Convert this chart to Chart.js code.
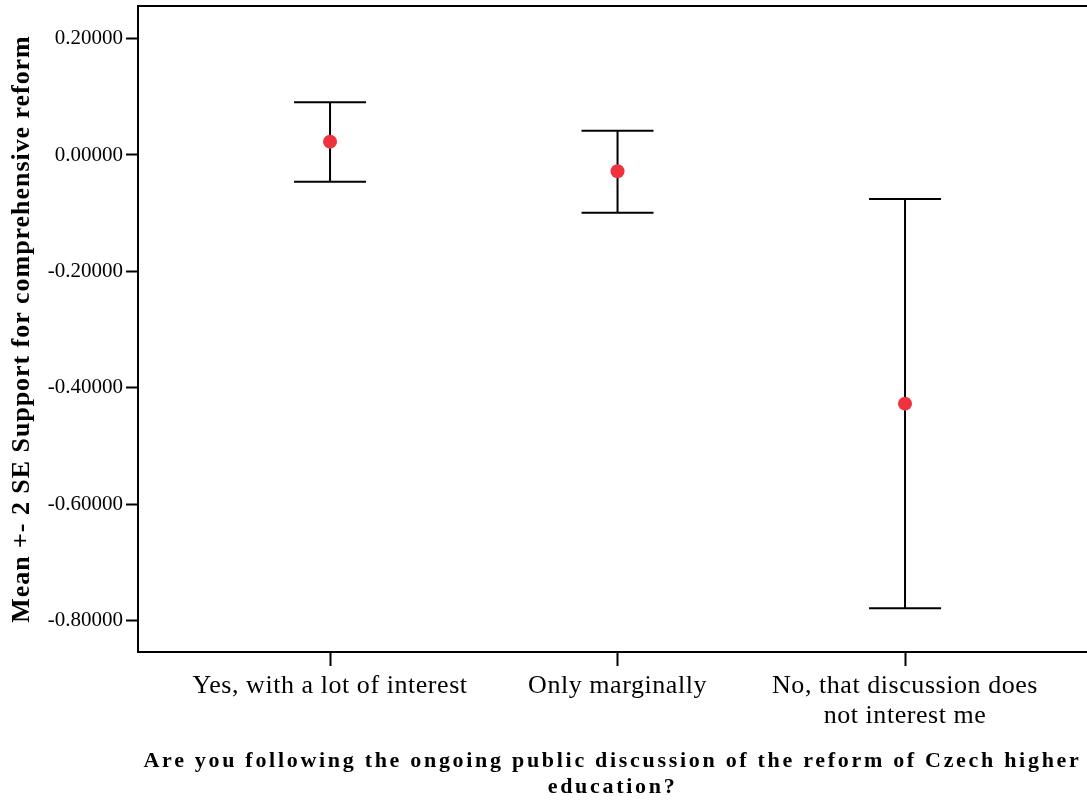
<!DOCTYPE html>
<html>
<head>
<meta charset="utf-8">
<script src="https://cdn.jsdelivr.net/npm/chart.js@4/dist/chart.umd.min.js"></script>
<style>
  html, body { margin: 0; padding: 0; background: #fff; }
  #wrap { width: 1087px; height: 803px; position: relative; }
</style>
</head>
<body>
<div id="wrap"><canvas id="chart"></canvas></div>
<script>
// Response categories (multi-line labels)
const categories = [
  ["Yes, with a lot of interest"],
  ["Only marginally"],
  ["No, that discussion does", "not interest me"]
];
// Mean and mean ± 2 SE of the support score
const means = [0.0229, -0.0280, -0.4273];
const upper = [0.0906, 0.0418, -0.0756];
const lower = [-0.0459, -0.0991, -0.7789];
// Y-axis tick values
const yTicks = [0.2, 0.0, -0.2, -0.4, -0.6, -0.8];

const yTitle = "Mean +- 2 SE Support for comprehensive reform";
const xTitle = ["Are you following the ongoing public discussion of the reform of Czech higher", "education?"];

const SERIF = "'Liberation Serif', 'Times New Roman', serif";
const RED = "rgb(239, 51, 62)";

// Wrap a scale drawing method so its text is drawn with extra letter spacing
function withSpacing(scale, method, px) {
  const flag = "_spaced_" + method;
  if (scale[flag]) return;
  const orig = scale[method];
  scale[method] = function (...args) {
    const ctx = this.ctx;
    ctx.save();
    ctx.letterSpacing = px + "px";
    orig.apply(this, args);
    ctx.restore();
  };
  scale[flag] = true;
}

function noPadding(s) {
  s.paddingTop = 0; s.paddingBottom = 0; s.paddingLeft = 0; s.paddingRight = 0;
}

const datasets = [];

// Mean markers
datasets.push({
  type: "scatter",
  label: "Mean",
  data: means.map((m, i) => ({ x: i + 1, y: m })),
  pointRadius: 7,
  pointHoverRadius: 7,
  pointBackgroundColor: RED,
  pointBorderWidth: 0,
  order: 0
});

// Whiskers
categories.forEach((_, i) => {
  datasets.push({
    type: "line",
    label: "Whisker " + (i + 1),
    data: [{ x: i + 1, y: lower[i] }, { x: i + 1, y: upper[i] }],
    borderColor: "#000",
    borderWidth: 2,
    pointRadius: 0,
    fill: false,
    order: 2
  });
});

// Caps at the ends of each whisker
datasets.push({
  type: "scatter",
  label: "Caps",
  data: categories.flatMap((_, i) => [{ x: i + 1, y: upper[i] }, { x: i + 1, y: lower[i] }]),
  pointStyle: "line",
  pointRadius: 36,
  pointHoverRadius: 36,
  pointBorderColor: "#000",
  pointBorderWidth: 2,
  order: 1
});

new Chart(document.getElementById("chart"), {
  type: "scatter",
  data: { datasets },
  options: {
    responsive: true,
    maintainAspectRatio: false,
    animation: false,
    devicePixelRatio: 1,
    layout: { padding: 0, autoPadding: false },
    plugins: { legend: { display: false }, tooltip: { enabled: false } },
    scales: {
      x: {
        type: "linear",
        position: "bottom",
        min: 0.332,
        max: 3.633,
        afterBuildTicks: (s) => { s.ticks = categories.map((_, i) => ({ value: i + 1 })); },
        afterFit: (s) => {
          s.height = 151;
          noPadding(s);
          withSpacing(s, "drawLabels", 0.55);
          withSpacing(s, "drawTitle", 2.7);
        },
        ticks: {
          autoSkip: false,
          maxRotation: 0,
          padding: 6,
          color: "#000",
          font: { family: SERIF, size: 26, lineHeight: 1.12 },
          callback: (v) => categories[Math.round(v) - 1]
        },
        grid: { drawOnChartArea: false, drawTicks: true, tickLength: 14, tickWidth: 2, tickColor: "#000" },
        border: { display: true, color: "#000", width: 2 },
        title: {
          display: true,
          text: xTitle,
          color: "#000",
          font: { family: SERIF, size: 22, weight: "bold", lineHeight: 1.18 },
          padding: { top: 0, bottom: 3 }
        }
      },
      xTop: {
        type: "linear",
        position: "top",
        afterFit: (s) => { s.height = 6; noPadding(s); },
        ticks: { display: false },
        grid: { display: false, drawTicks: false },
        border: { display: true, color: "#000", width: 2 }
      },
      y: {
        type: "linear",
        min: -0.854,
        max: 0.256,
        afterBuildTicks: (s) => { s.ticks = yTicks.map((v) => ({ value: v })); },
        afterFit: (s) => {
          s.width = 138;
          noPadding(s);
          withSpacing(s, "drawTitle", 0.95);
        },
        ticks: {
          padding: 3,
          color: "#000",
          font: { family: SERIF, size: 21 },
          callback: (v) => v.toFixed(5)
        },
        grid: { drawOnChartArea: false, drawTicks: true, tickLength: 12, tickWidth: 2, tickColor: "#000" },
        border: { display: true, color: "#000", width: 2 },
        title: {
          display: true,
          text: yTitle,
          color: "#000",
          font: { family: SERIF, size: 26, weight: "bold" },
          padding: { top: 7, bottom: 0 }
        }
      }
    }
  }
});
</script>
</body>
</html>
